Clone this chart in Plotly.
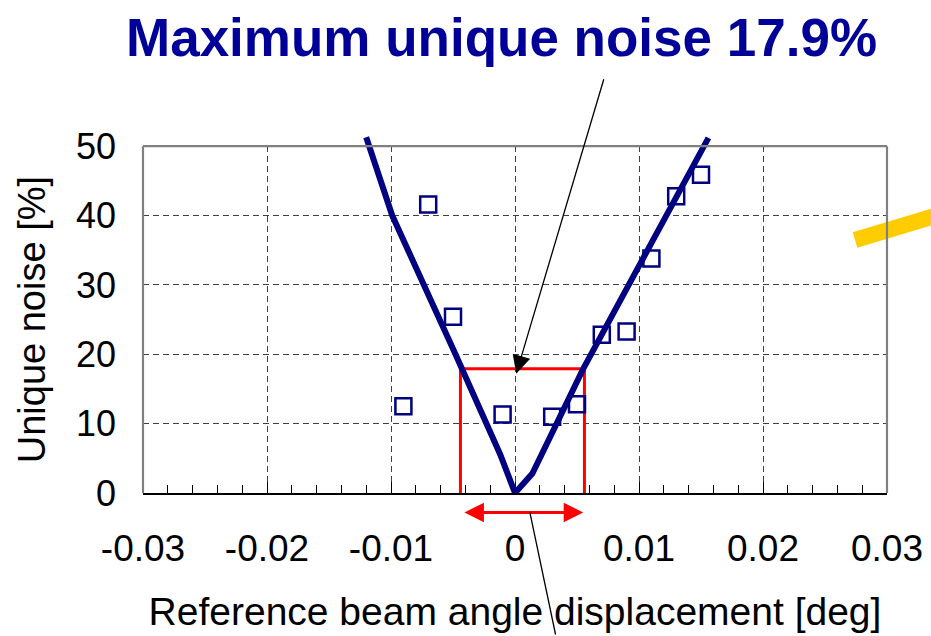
import plotly.graph_objects as go

# measured points (open squares)
meas_x = [-0.009, -0.007, -0.005, -0.001, 0.003, 0.005, 0.007, 0.009, 0.011, 0.013, 0.015]
meas_y = [12.5, 41.6, 25.4, 11.3, 11.0, 12.8, 22.8, 23.3, 33.8, 42.8, 45.9]

# model line (V shape)
line_x = [-0.0120, -0.0099, -0.0048, -0.0012, 0.0, 0.0014, 0.0055, 0.0156]
line_y = [51.3, 40.0, 20.0, 5.6, 0.0, 2.8, 17.9, 51.2]

# allowed window / max noise box
box_left = -0.0044
box_right = 0.0056
max_noise = 17.9

x_ticks = [-0.03, -0.02, -0.01, 0, 0.01, 0.02, 0.03]
x_ticklabels = ["-0.03", "-0.02", "-0.01", "0", "0.01", "0.02", "0.03"]
y_ticks = [0, 10, 20, 30, 40, 50]

FONT = "Liberation Sans, Arial, sans-serif"
NAVY = "#000080"
GRID = "#404040"
FRAME = "#808080"

# main y domain is a bit shorter than the plot area so the line can overshoot 50
y_dom = 346.8 / 363
y_top_line = 50 / y_dom
arrow_row = -0.056  # red arrow height, in y-domain units (below the axis)

fig = go.Figure()

fig.add_trace(go.Scatter(x=[box_left, box_left, box_right, box_right],
                         y=[0, max_noise, max_noise, 0],
                         mode="lines", line=dict(color="#ff0000", width=3),
                         xaxis="x", yaxis="y"))
fig.add_trace(go.Scatter(x=meas_x, y=meas_y, mode="markers",
                         marker=dict(symbol="square-open", size=16, color=NAVY,
                                     line=dict(width=2.5, color=NAVY)),
                         xaxis="x", yaxis="y"))
fig.add_trace(go.Scatter(x=line_x, y=line_y, mode="lines",
                         line=dict(color=NAVY, width=6),
                         xaxis="x3", yaxis="y4"))

fig.update_layout(
    width=931, height=636,
    margin=dict(l=143, r=44, t=130, b=143, autoexpand=False),
    paper_bgcolor="white", plot_bgcolor="rgba(0,0,0,0)",
    showlegend=False,
    font=dict(family=FONT, color="black"),
    xaxis=dict(range=[-0.03, 0.03], domain=[0, 1], anchor="y", automargin=False,
               tickvals=x_ticks, ticktext=x_ticklabels,
               tickfont=dict(size=37), ticklabelstandoff=22,
               ticks="inside", ticklen=11, tickwidth=1.3, tickcolor="black",
               minor=dict(dtick=0.002, tick0=0, ticks="inside", ticklen=8,
                          tickwidth=1.3, tickcolor="black", showgrid=False),
               showline=True, linecolor="black", linewidth=2,
               showgrid=True, gridcolor=GRID, gridwidth=1, griddash="6px,4px",
               zeroline=False,
               title=dict(text="Reference beam angle displacement [deg]",
                          font=dict(size=39), standoff=29)),
    xaxis3=dict(range=[-0.03, 0.03], overlaying="x", anchor="y4", visible=False,
                automargin=False, showgrid=False, zeroline=False),
    yaxis=dict(range=[0, 50], domain=[0, y_dom], anchor="x", automargin=False,
               tickvals=y_ticks, tickfont=dict(size=36), ticklabelstandoff=26,
               ticks="", showline=False,
               showgrid=True, gridcolor=GRID, gridwidth=1, griddash="6px,4px",
               zeroline=False,
               title=dict(text="Unique noise [%]", font=dict(size=38), standoff=18)),
    yaxis2=dict(range=[0, 50], overlaying="y", anchor="free", position=0.5,
                automargin=False,
                showline=True, linecolor="black", linewidth=1.3,
                dtick=10, tick0=0, ticks="outside", ticklen=8, tickwidth=1.2,
                tickcolor="black",
                minor=dict(dtick=2, tick0=0, ticks="outside", ticklen=8,
                           tickwidth=1.2, tickcolor="black"),
                showticklabels=False, showgrid=False, zeroline=False),
    yaxis3=dict(range=[0, 50], overlaying="y", anchor="free", position=0.5,
                automargin=False, showline=False,
                dtick=10, tick0=0, ticks="inside", ticklen=8, tickwidth=1.2,
                tickcolor="black",
                minor=dict(dtick=2, tick0=0, ticks="inside", ticklen=8,
                           tickwidth=1.2, tickcolor="black"),
                showticklabels=False, showgrid=False, zeroline=False),
    yaxis4=dict(range=[0, y_top_line], domain=[0, 1], anchor="x3", visible=False,
                automargin=False, showgrid=False, zeroline=False),
)

# gray frame on left, top and right of the plot area
for fx0, fy0, fx1, fy1 in [(0, 0, 0, 1), (0, 1, 1, 1), (1, 1, 1, 0)]:
    fig.add_shape(type="line", xref="x domain", yref="y domain",
                  x0=fx0, y0=fy0, x1=fx1, y1=fy1,
                  line=dict(color=FRAME, width=2.2), layer="above")

# yellow pointer stroke at the right edge
fig.add_shape(type="line", xref="paper", yref="paper",
              x0=0.957, y0=0.697, x1=1.075, y1=0.770,
              line=dict(color="#FFCC00", width=16), layer="below")

# title
fig.add_annotation(text="Maximum unique noise 17.9%", xref="paper", yref="paper",
                   x=0.4825, y=1.255, xanchor="center", yanchor="middle",
                   showarrow=False,
                   font=dict(family=FONT, size=53, color="#000099", weight="bold"))

# black arrow pointing at the max noise level
fig.add_annotation(text="", xref="x", yref="y", x=0.0001, y=max_noise - 0.7,
                   ax=88, ay=-296, showarrow=True, arrowhead=2, arrowsize=2.8,
                   arrowwidth=1.3, arrowcolor="black", standoff=0)

# red double arrow below the axis
fig.add_annotation(text="", xref="x", yref="y domain", axref="x", ayref="pixel",
                   x=box_right - 0.0001, y=arrow_row, ax=box_left + 0.0002, ay=0,
                   showarrow=True, arrowside="end+start",
                   arrowhead=2, startarrowhead=2, arrowsize=1.3, startarrowsize=1.3,
                   arrowwidth=3, arrowcolor="#ff0000")

# thin leader line leaving the bottom
fig.add_annotation(text="", xref="x", yref="y domain", x=0.0012, y=arrow_row,
                   ax=26, ay=135, showarrow=True, arrowhead=0,
                   arrowwidth=1.3, arrowcolor="black", standoff=0)

# drop the default page margin so the figure sits at the window's corner
fig.write_html("out.html", config={"displayModeBar": False},
               post_script="document.body.style.margin='0';")
